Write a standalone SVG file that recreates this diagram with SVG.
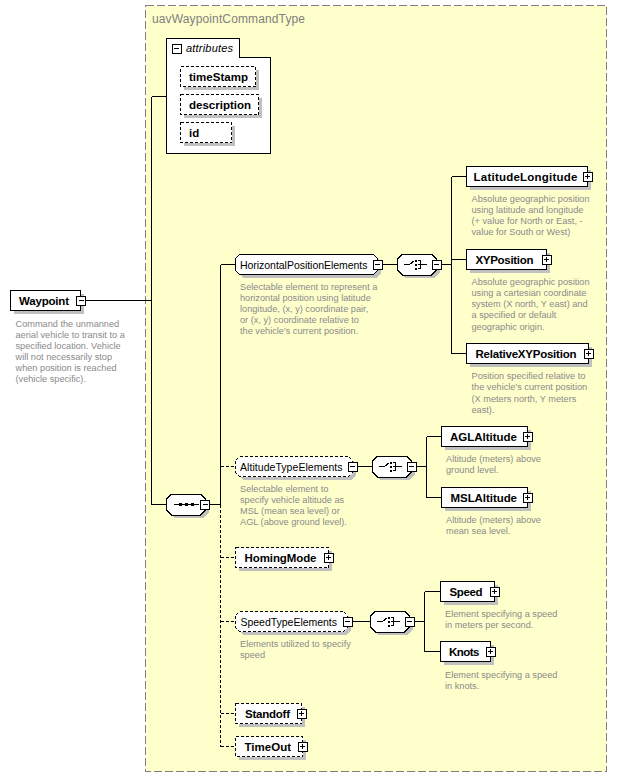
<svg xmlns="http://www.w3.org/2000/svg" xmlns:xlink="http://www.w3.org/1999/xlink" width="617" height="778" viewBox="0 0 617 778">
<style>
.bg{fill:#FFFFCC;stroke:#808080;stroke-width:1;stroke-dasharray:8,3}
.nd{fill:#fff;stroke:#000;stroke-width:1}
.opt{stroke-dasharray:3,2}
.sh{fill:#C0C0C0;stroke:none}
.cn{fill:none;stroke:#000;stroke-width:1}
.dl{stroke-dasharray:3,2}
.el{font-family:"Liberation Sans",Arial,sans-serif;font-size:11.5px;font-weight:bold;fill:#000}
.gr{font-family:"Liberation Sans",Arial,sans-serif;font-size:10.5px;fill:#000}
.ds{font-family:"Liberation Sans",Arial,sans-serif;font-size:9.2px;fill:#8A8A8A}
.tt{font-family:"Liberation Sans",Arial,sans-serif;font-size:12px;fill:#808080}
.at{font-family:"Liberation Sans",Arial,sans-serif;font-size:11px;font-style:italic;fill:#000}
.sym{fill:none;stroke:#000;stroke-width:1}
.dot{fill:#000}
</style>
<defs>
<g id="minus"><rect x="-4.5" y="-4.5" width="9" height="9" fill="#fff" stroke="#000"/><path d="M-2.5,0H2.5" stroke="#000"/></g>
<g id="plus"><rect x="-4.5" y="-4.5" width="9" height="9" fill="#fff" stroke="#000"/><path d="M-2.5,0H2.5M0,-2.5V2.5" stroke="#000"/></g>
<path id="oct" d="M5,0H34L39,5V16L34,21H5L0,16V5Z"/>
<g id="choice"><path class="sym" d="M6,10.5H12L17,6.5M20,6.5H23V14.5H20M20,10.5H29"/><rect class="dot" x="17.5" y="5.5" width="2" height="2"/><rect class="dot" x="17.5" y="9.5" width="2" height="2"/><rect class="dot" x="17.5" y="13.5" width="2" height="2"/></g>
<g id="seq"><path class="sym" d="M7,10.5H32"/><rect class="dot" x="12" y="9" width="3" height="3"/><rect class="dot" x="18" y="9" width="3" height="3"/><rect class="dot" x="24" y="9" width="3" height="3"/></g>
</defs>
<g shape-rendering="crispEdges">
<rect class="bg" x="145.5" y="5.5" width="461" height="766"/>
</g>
<text class="tt" x="152" y="23" textLength="153">uavWaypointCommandType</text>

<g id="connectors" shape-rendering="crispEdges">
<path class="cn" d="M151.5,96.5H166.5M85.5,300.5H151.5M151.5,96.5V504.5H166.5"/>
<path class="cn" d="M209.5,504.5H220.5M220.5,264.5V504.5M220.5,264.5H235.5"/>
<path class="cn dl" d="M220.5,504.5V746.5M220.5,466.5H235.5M220.5,557.5H235.5M220.5,621.5H235.5M220.5,713.5H235.5M220.5,746.5H235.5"/>
<path class="cn" d="M382,264.5H397.5M441,264.5H451.5M451.5,176.5V353.5M451.5,176.5H466.5M451.5,259.5H466.5M451.5,353.5H466.5"/>
<path class="cn" d="M357,466.5H372.5M416,466.5H426.5M426.5,436.5V497.5M426.5,436.5H441.5M426.5,497.5H441.5"/>
<path class="cn" d="M352,621.5H370.5M414,621.5H424.5M424.5,591.5V651.5M424.5,591.5H440.5M424.5,651.5H440.5"/>
</g>

<g id="attributes" shape-rendering="crispEdges">
<polygon class="nd" points="166.5,38.5 239.5,38.5 239.5,57.5 270.5,57.5 270.5,153.5 166.5,153.5"/>
<use xlink:href="#minus" x="176.5" y="48.5"/>
<text class="at" x="186" y="52" textLength="47">attributes</text>
</g>
<g id="attr-timeStamp" shape-rendering="crispEdges">
<rect class="sh" x="183.5" y="69.5" width="75" height="20"/>
<rect class="nd opt" x="180.5" y="66.5" width="75" height="20"/>
<text class="el" x="189" y="81" textLength="59">timeStamp</text>
</g>
<g id="attr-description" shape-rendering="crispEdges">
<rect class="sh" x="183.5" y="97.5" width="78" height="20"/>
<rect class="nd opt" x="180.5" y="94.5" width="78" height="20"/>
<text class="el" x="189" y="109" textLength="62">description</text>
</g>
<g id="attr-id" shape-rendering="crispEdges">
<rect class="sh" x="183.5" y="125.5" width="51" height="20"/>
<rect class="nd opt" x="180.5" y="122.5" width="51" height="20"/>
<text class="el" x="189" y="137">id</text>
</g>

<g id="Waypoint" shape-rendering="crispEdges">
<rect class="sh" x="13.5" y="293.5" width="70" height="20"/>
<rect class="nd" x="10.5" y="290.5" width="70" height="20"/>
<text class="el" x="19" y="304.5" textLength="50">Waypoint</text>
<use xlink:href="#minus" x="81" y="300.5"/>
<text class="ds"><tspan x="15.5" y="326.5">Command the unmanned</tspan><tspan x="15.5" y="337.5">aerial vehicle to transit to a</tspan><tspan x="15.5" y="348.5">specified location.  Vehicle</tspan><tspan x="15.5" y="359.5">will not necessarily stop</tspan><tspan x="15.5" y="370.5">when position is reached</tspan><tspan x="15.5" y="381.5">(vehicle specific).</tspan></text>
</g>

<g id="sequence" shape-rendering="crispEdges">
<use xlink:href="#oct" class="sh" x="169.5" y="497"/>
<use xlink:href="#oct" class="nd" x="166.5" y="494"/>
<use xlink:href="#seq" x="166.5" y="494"/>
<use xlink:href="#minus" x="205" y="504.5"/>
</g>

<g id="HorizontalPositionElements" shape-rendering="crispEdges">
<path class="sh" d="M242.5,257.5H376.5L380.5,261.5V273.5L376.5,277.5H242.5L238.5,273.5V261.5Z"/>
<path class="nd" d="M239.5,254.5H373.5L377.5,258.5V270.5L373.5,274.5H239.5L235.5,270.5V258.5Z"/>
<text class="gr" x="240" y="268.5" textLength="127.5">HorizontalPositionElements</text>
<use xlink:href="#minus" x="377.5" y="264.5"/>
<text class="ds"><tspan x="240" y="289.5">Selectable element to represent a</tspan><tspan x="240" y="300.5">horizontal position using latitude</tspan><tspan x="240" y="311.5">longitude, (x, y) coordinate pair,</tspan><tspan x="240" y="322.5">or (x, y) coordinate relative to</tspan><tspan x="240" y="333.5">the vehicle's current position.</tspan></text>
</g>

<g id="choice1" shape-rendering="crispEdges">
<use xlink:href="#oct" class="sh" x="400.5" y="257"/>
<use xlink:href="#oct" class="nd" x="397.5" y="254"/>
<use xlink:href="#choice" x="397.5" y="254"/>
<use xlink:href="#minus" x="436.5" y="264.5"/>
</g>

<g id="LatitudeLongitude" shape-rendering="crispEdges">
<rect class="sh" x="469.5" y="169.5" width="121" height="20"/>
<rect class="nd" x="466.5" y="166.5" width="121" height="20"/>
<text class="el" x="473.5" y="180.5" textLength="104">LatitudeLongitude</text>
<use xlink:href="#plus" x="587.5" y="176.5"/>
<text class="ds"><tspan x="471.5" y="201.5">Absolute geographic position</tspan><tspan x="471.5" y="212.8">using latitude and longitude</tspan><tspan x="471.5" y="224.1">(+ value for North or East, -</tspan><tspan x="471.5" y="235.4">value for South or West)</tspan></text>
</g>

<g id="XYPosition" shape-rendering="crispEdges">
<rect class="sh" x="469.5" y="252.5" width="80" height="20"/>
<rect class="nd" x="466.5" y="249.5" width="80" height="20"/>
<text class="el" x="475.5" y="263.5" textLength="58">XYPosition</text>
<use xlink:href="#plus" x="546.5" y="259.5"/>
<text class="ds"><tspan x="471.5" y="284.5">Absolute geographic position</tspan><tspan x="471.5" y="295.8">using a cartesian coordinate</tspan><tspan x="471.5" y="307.1">system (X north, Y east) and</tspan><tspan x="471.5" y="318.4">a specified or default</tspan><tspan x="471.5" y="329.7">geographic origin.</tspan></text>
</g>

<g id="RelativeXYPosition" shape-rendering="crispEdges">
<rect class="sh" x="469.5" y="346.5" width="122" height="20"/>
<rect class="nd" x="466.5" y="343.5" width="122" height="20"/>
<text class="el" x="475.5" y="357.5" textLength="101">RelativeXYPosition</text>
<use xlink:href="#plus" x="588.5" y="353.5"/>
<text class="ds"><tspan x="471.5" y="379">Position specified relative to</tspan><tspan x="471.5" y="390.3">the vehicle's current position</tspan><tspan x="471.5" y="401.6">(X meters north, Y meters</tspan><tspan x="471.5" y="412.9">east).</tspan></text>
</g>

<g id="AltitudeTypeElements" shape-rendering="crispEdges">
<path class="sh" d="M242.5,459.5H351.5L355.5,463.5V475.5L351.5,479.5H242.5L238.5,475.5V463.5Z"/>
<path class="nd opt" d="M239.5,456.5H348.5L352.5,460.5V472.5L348.5,476.5H239.5L235.5,472.5V460.5Z"/>
<text class="gr" x="240" y="470.5" textLength="102.5">AltitudeTypeElements</text>
<use xlink:href="#minus" x="352.5" y="466.5"/>
<text class="ds"><tspan x="240" y="492">Selectable element to</tspan><tspan x="240" y="503">specify vehicle altitude as</tspan><tspan x="240" y="514">MSL (mean sea level) or</tspan><tspan x="240" y="525">AGL (above ground level).</tspan></text>
</g>

<g id="choice2" shape-rendering="crispEdges">
<use xlink:href="#oct" class="sh" x="375.5" y="459"/>
<use xlink:href="#oct" class="nd" x="372.5" y="456"/>
<use xlink:href="#choice" x="372.5" y="456"/>
<use xlink:href="#minus" x="411.5" y="466.5"/>
</g>

<g id="AGLAltitude" shape-rendering="crispEdges">
<rect class="sh" x="444.5" y="429.5" width="86" height="20"/>
<rect class="nd" x="441.5" y="426.5" width="86" height="20"/>
<text class="el" x="450" y="440.5" textLength="67">AGLAltitude</text>
<use xlink:href="#plus" x="527.5" y="436.5"/>
<text class="ds"><tspan x="446" y="462">Altitude (meters) above</tspan><tspan x="446" y="473">ground level.</tspan></text>
</g>

<g id="MSLAltitude" shape-rendering="crispEdges">
<rect class="sh" x="444.5" y="490.5" width="86" height="20"/>
<rect class="nd" x="441.5" y="487.5" width="86" height="20"/>
<text class="el" x="450.5" y="501.5" textLength="66.5">MSLAltitude</text>
<use xlink:href="#plus" x="527.5" y="497.5"/>
<text class="ds"><tspan x="446" y="523">Altitude (meters) above</tspan><tspan x="446" y="534">mean sea level.</tspan></text>
</g>

<g id="HomingMode" shape-rendering="crispEdges">
<rect class="sh" x="238.5" y="550.5" width="93" height="20"/>
<rect class="nd opt" x="235.5" y="547.5" width="93" height="20"/>
<text class="el" x="244.5" y="561.5" textLength="72">HomingMode</text>
<use xlink:href="#plus" x="328.5" y="557.5"/>
</g>

<g id="SpeedTypeElements" shape-rendering="crispEdges">
<path class="sh" d="M242.5,614.5H346.5L350.5,618.5V630.5L346.5,634.5H242.5L238.5,630.5V618.5Z"/>
<path class="nd opt" d="M239.5,611.5H343.5L347.5,615.5V627.5L343.5,631.5H239.5L235.5,627.5V615.5Z"/>
<text class="gr" x="240.5" y="625.5" textLength="96.5">SpeedTypeElements</text>
<use xlink:href="#minus" x="347.5" y="621.5"/>
<text class="ds"><tspan x="240" y="647">Elements utilized to specify</tspan><tspan x="240" y="658">speed</tspan></text>
</g>

<g id="choice3" shape-rendering="crispEdges">
<use xlink:href="#oct" class="sh" x="373.5" y="614"/>
<use xlink:href="#oct" class="nd" x="370.5" y="611"/>
<use xlink:href="#choice" x="370.5" y="611"/>
<use xlink:href="#minus" x="409.5" y="621.5"/>
</g>

<g id="Speed" shape-rendering="crispEdges">
<rect class="sh" x="443.5" y="584.5" width="54" height="20"/>
<rect class="nd" x="440.5" y="581.5" width="54" height="20"/>
<text class="el" x="449.5" y="595.5" textLength="33">Speed</text>
<use xlink:href="#plus" x="494.5" y="591.5"/>
<text class="ds"><tspan x="445" y="617">Element specifying a speed</tspan><tspan x="445" y="628">in meters per second.</tspan></text>
</g>

<g id="Knots" shape-rendering="crispEdges">
<rect class="sh" x="443.5" y="644.5" width="50" height="20"/>
<rect class="nd" x="440.5" y="641.5" width="50" height="20"/>
<text class="el" x="449" y="655.5" textLength="30.5">Knots</text>
<use xlink:href="#plus" x="490.5" y="651.5"/>
<text class="ds"><tspan x="445" y="678">Element specifying a speed</tspan><tspan x="445" y="689">in knots.</tspan></text>
</g>

<g id="Standoff" shape-rendering="crispEdges">
<rect class="sh" x="238.5" y="706.5" width="66" height="20"/>
<rect class="nd opt" x="235.5" y="703.5" width="66" height="20"/>
<text class="el" x="245" y="717.5" textLength="45">Standoff</text>
<use xlink:href="#plus" x="301.5" y="713.5"/>
</g>

<g id="TimeOut" shape-rendering="crispEdges">
<rect class="sh" x="238.5" y="739.5" width="67" height="20"/>
<rect class="nd opt" x="235.5" y="736.5" width="67" height="20"/>
<text class="el" x="244.5" y="750.5" textLength="46.5">TimeOut</text>
<use xlink:href="#plus" x="302.5" y="746.5"/>
</g>
</svg>
